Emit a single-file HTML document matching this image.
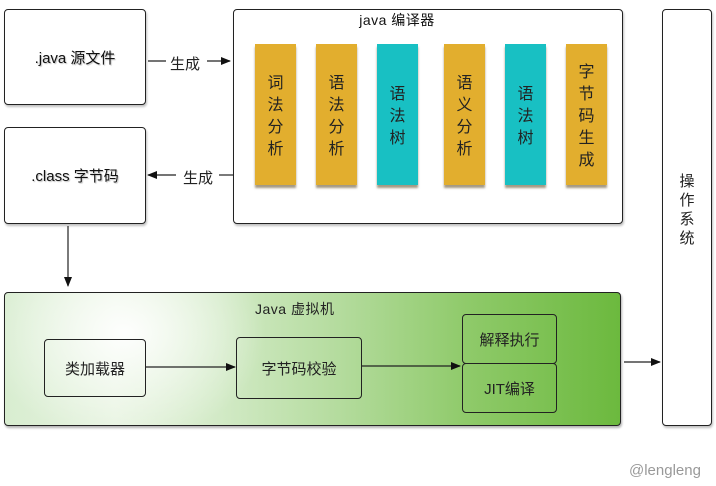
<!DOCTYPE html>
<html><head><meta charset="utf-8">
<style>
html,body{margin:0;padding:0;background:#fff;}
body{width:716px;height:486px;position:relative;overflow:hidden;font-family:"Liberation Sans","Noto Sans CJK SC",sans-serif;color:#111;}
.box{position:absolute;border:1px solid #222;border-radius:4px;background:#fff;box-sizing:border-box;box-shadow:1px 2px 2px rgba(0,0,0,0.25);}
.t{position:absolute;white-space:nowrap;}
.bar{position:absolute;width:41px;top:44px;height:141px;box-sizing:border-box;padding-top:4px;box-shadow:0 3px 2px rgba(90,70,30,0.55);display:flex;align-items:center;justify-content:center;}
.bar span{display:block;width:16px;font-size:16px;line-height:22px;text-align:center;color:#222;}
.g{background:#e2ae2e;}
.c{background:#18c0c3;}
.sb{position:absolute;border:1px solid #222;border-radius:4px;box-sizing:border-box;display:flex;align-items:center;justify-content:center;font-size:15px;color:#222;}
</style></head><body>

<!-- .java source -->
<div class="box" style="left:4px;top:9px;width:142px;height:96px;"></div>
<div class="t" style="left:4px;top:47px;width:142px;text-align:center;font-size:15px;text-shadow:1px 1px 1px rgba(0,0,0,0.25);">.java 源文件</div>

<!-- .class -->
<div class="box" style="left:4px;top:127px;width:142px;height:97px;"></div>
<div class="t" style="left:4px;top:165px;width:142px;text-align:center;font-size:15px;text-shadow:1px 1px 1px rgba(0,0,0,0.25);">.class 字节码</div>

<!-- compiler -->
<div class="box" style="left:233px;top:9px;width:390px;height:215px;"></div>
<div class="t" style="left:233px;top:10px;width:328px;text-align:center;font-size:14px;letter-spacing:0.5px;">java 编译器</div>

<div class="bar g" style="left:255px;"><span>词法分析</span></div>
<div class="bar g" style="left:316px;"><span>语法分析</span></div>
<div class="bar c" style="left:377px;"><span>语法树</span></div>
<div class="bar g" style="left:444px;"><span>语义分析</span></div>
<div class="bar c" style="left:505px;"><span>语法树</span></div>
<div class="bar g" style="left:566px;"><span>字节码生成</span></div>

<!-- OS -->
<div class="box" style="left:662px;top:9px;width:50px;height:417px;"></div>
<div class="t" style="left:678px;top:172px;width:18px;font-size:15px;line-height:19px;text-align:center;white-space:normal;color:#222;">操作系统</div>

<!-- JVM -->
<div style="position:absolute;left:4px;top:292px;width:617px;height:134px;box-sizing:border-box;border:1px solid #222;border-radius:4px;box-shadow:1px 2px 2px rgba(0,0,0,0.3);background:radial-gradient(ellipse 140px 110px at 120px 40px,rgba(255,255,255,0.95),rgba(255,255,255,0) 100%),linear-gradient(to right,#d8edd0 0%,#e6f3df 18%,#d2eac6 35%,#b3db9c 55%,#8fca6a 75%,#6cb93e 100%);"></div>
<div class="t" style="left:255px;top:299px;font-size:14px;color:#222;letter-spacing:0.5px;">Java 虚拟机</div>

<div class="sb" style="left:44px;top:339px;width:102px;height:58px;">类加载器</div>
<div class="sb" style="left:236px;top:337px;width:126px;height:62px;">字节码校验</div>
<div class="sb" style="left:462px;top:314px;width:95px;height:50px;">解释执行</div>
<div class="sb" style="left:462px;top:363px;width:95px;height:50px;">JIT编译</div>

<div class="t" style="left:629px;top:462px;font-size:15px;color:#999;">@lengleng</div>

<!-- 生成 labels -->
<div class="t" style="left:170px;top:53px;font-size:15px;color:#222;">生成</div>
<div class="t" style="left:183px;top:167px;font-size:15px;color:#222;">生成</div>

<svg width="716" height="486" style="position:absolute;left:0;top:0;" xmlns="http://www.w3.org/2000/svg">
<defs>
<marker id="a" markerWidth="10" markerHeight="8" refX="9" refY="4" orient="auto" markerUnits="userSpaceOnUse">
<path d="M0,0 L10,4 L0,8 Z" fill="#111"/>
</marker>
</defs>
<g stroke="#222" stroke-width="1.2" fill="none">
<line x1="148" y1="61" x2="166" y2="61"/>
<line x1="207" y1="61" x2="230" y2="61" marker-end="url(#a)"/>
<line x1="233" y1="175" x2="219" y2="175"/>
<line x1="176" y1="175" x2="148" y2="175" marker-end="url(#a)"/>
<line x1="68" y1="226" x2="68" y2="286" marker-end="url(#a)"/>
<line x1="146" y1="367" x2="235" y2="367" marker-end="url(#a)"/>
<line x1="362" y1="366" x2="460" y2="366" marker-end="url(#a)"/>
<line x1="624" y1="362" x2="660" y2="362" marker-end="url(#a)"/>
</g>
</svg>
</body></html>
